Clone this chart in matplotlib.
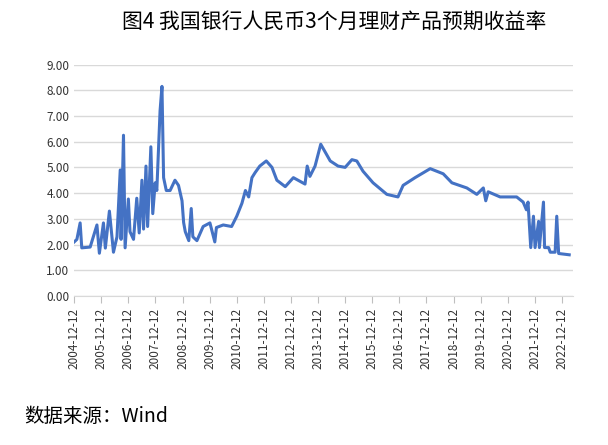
import matplotlib
matplotlib.use("Agg")
import matplotlib.pyplot as plt

plt.rcParams['font.family'] = ['Noto Sans CJK SC', 'DejaVu Sans']

years = [2004.95, 2005.05, 2005.17, 2005.23, 2005.54, 2005.79, 2005.88, 2006.03, 2006.1, 2006.25, 2006.4,
         2006.53, 2006.65, 2006.68, 2006.77, 2006.83, 2006.95, 2007.01, 2007.14, 2007.26, 2007.35, 2007.45,
         2007.51, 2007.6, 2007.66, 2007.78, 2007.85, 2007.94, 2008.0, 2008.12, 2008.19, 2008.25, 2008.35,
         2008.49, 2008.67, 2008.8, 2008.93, 2008.99, 2009.05, 2009.18, 2009.27, 2009.33, 2009.48, 2009.71,
         2009.96, 2010.14, 2010.2, 2010.45, 2010.76, 2010.95, 2011.14, 2011.27, 2011.39, 2011.51, 2011.63,
         2011.8, 2012.04, 2012.25, 2012.43, 2012.74, 2013.04, 2013.47, 2013.55, 2013.65, 2013.84, 2014.05,
         2014.4, 2014.69, 2014.95, 2015.2, 2015.38, 2015.61, 2015.98, 2016.49, 2016.9, 2017.09, 2017.53,
         2018.09, 2018.57, 2018.89, 2019.44, 2019.81, 2020.05, 2020.14, 2020.23, 2020.67, 2021.28, 2021.52,
         2021.64, 2021.7, 2021.8, 2021.9, 2021.96, 2022.09, 2022.12, 2022.27, 2022.31, 2022.46, 2022.52,
         2022.7, 2022.76, 2022.83, 2023.22]
rates = [2.1, 2.2, 2.84, 1.87, 1.9, 2.76, 1.66, 2.84, 1.86, 3.3, 1.7,
         2.3, 4.9, 2.2, 6.25, 1.87, 3.77, 2.5, 2.2, 3.8, 2.45, 4.5,
         2.6, 5.05, 2.7, 5.8, 3.2, 4.4, 4.1, 7.2, 8.15, 4.6, 4.1,
         4.1, 4.5, 4.3, 3.7, 2.85, 2.5, 2.15, 3.4, 2.3, 2.15, 2.7,
         2.84, 2.1, 2.66, 2.76, 2.7, 3.1, 3.6, 4.1, 3.85, 4.6, 4.8,
         5.05, 5.25, 5.0, 4.5, 4.25, 4.6, 4.35, 5.05, 4.65, 5.05, 5.9,
         5.25, 5.05, 5.0, 5.3, 5.25, 4.85, 4.4, 3.95, 3.85, 4.3, 4.6,
         4.95, 4.75, 4.4, 4.2, 3.95, 4.2, 3.7, 4.05, 3.85, 3.85, 3.65,
         3.35, 3.65, 1.88, 3.1, 1.88, 2.9, 1.88, 3.65, 1.88, 1.88, 1.7,
         1.7, 3.1, 1.65, 1.6]
tick_labels = [f"{y}-12-12" for y in range(2004, 2023)]
tick_pos = [y + 0.95 for y in range(2004, 2023)]

fig = plt.figure(figsize=(6.08, 4.45), dpi=100)
ax = fig.add_axes([0.122, 0.335, 0.82, 0.52])
ax.plot(years, rates, color='#4472C4', lw=2.2)
ax.set_ylim(0, 9)
ax.set_yticks([i for i in range(10)])
ax.set_yticklabels([f"{i:.2f}" for i in range(10)], fontsize=8.5, color='#333333')
ax.set_xlim(2004.95, 2023.35)
ax.set_xticks(tick_pos)
ax.set_xticklabels(tick_labels, rotation=90, fontsize=8.5, color='#333333')
ax.grid(axis='y', color='#d9d9d9', lw=1)
ax.set_axisbelow(True)
for s in ['top', 'right', 'left']:
    ax.spines[s].set_visible(False)
ax.spines['bottom'].set_color('#d9d9d9')
ax.tick_params(axis='y', length=0)
ax.tick_params(axis='x', color='#bfbfbf', length=5, direction='out')

fig.text(0.55, 0.95, "图4 我国银行人民币3个月理财产品预期收益率", ha='center', va='center', fontsize=15)
fig.text(0.04, 0.065, "数据来源：Wind", ha='left', va='center', fontsize=14)
fig.savefig("out.png", dpi=100)
